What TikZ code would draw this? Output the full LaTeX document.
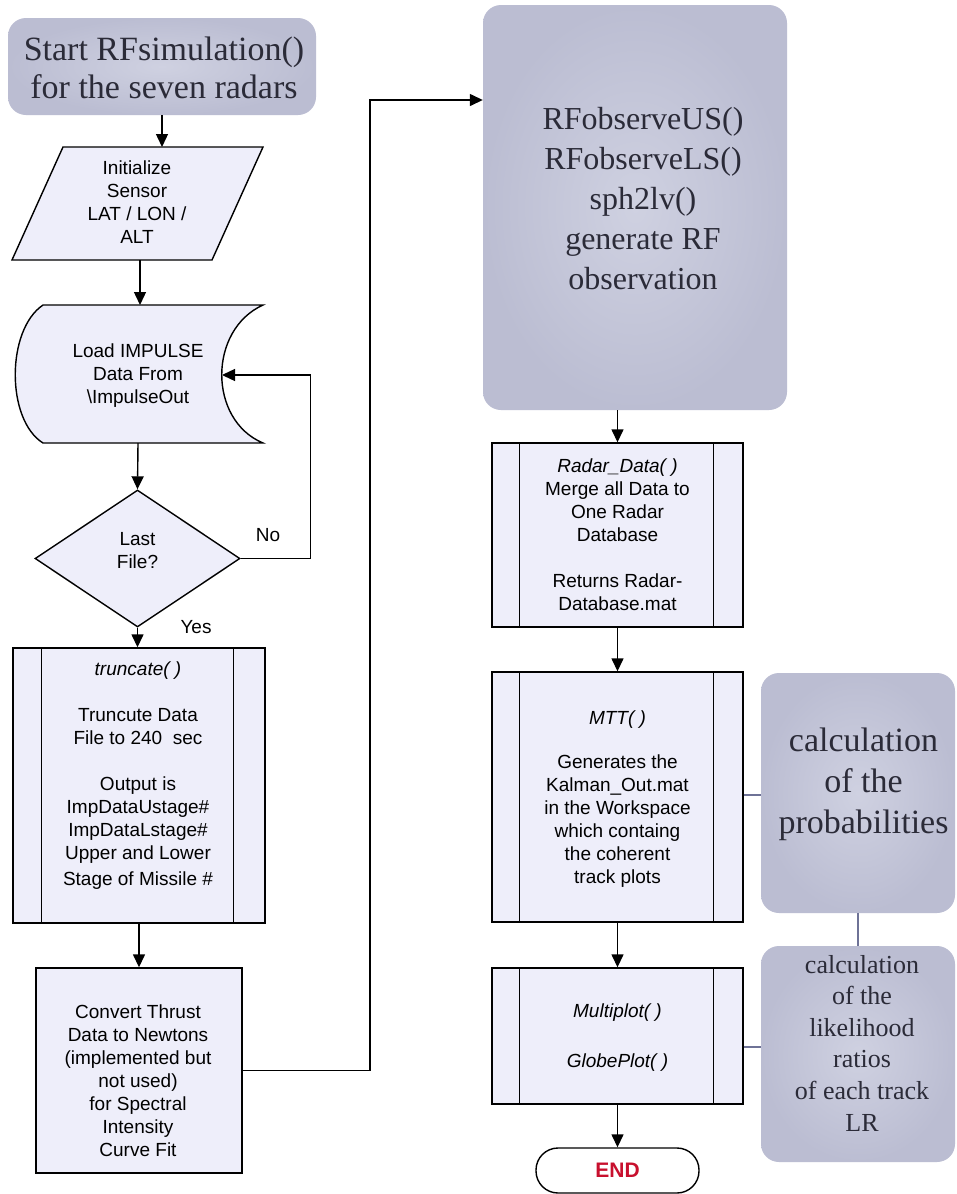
\documentclass[tikz,border=0pt]{standalone}
\usepackage{fontspec}
\setmainfont{Liberation Serif}
\setsansfont{Liberation Sans}
\usetikzlibrary{arrows.meta,shapes.geometric,calc}
\definecolor{boxfill}{HTML}{EEEEFA}
\definecolor{grayfill}{HTML}{BBBDD2}
\definecolor{grayin}{HTML}{CFD1E1}
\definecolor{grayline}{HTML}{6E7296}
\definecolor{txtdark}{HTML}{2B2B38}
\definecolor{endred}{HTML}{C8102E}
\begin{document}
\begin{tikzpicture}[x=1pt,y=-1pt,
  line/.style={draw=black, line width=1.4pt},
  arr/.style={line, -{Triangle[length=13pt,width=12pt]}},
  flowtxt/.style={font=\sffamily\fontsize{19}{23}\selectfont, align=center, text=black, inner sep=0pt},
  procbox/.style={draw=black, line width=1.4pt, fill=boxfill, inner sep=0pt},
  graybox/.style={rounded corners=18pt, inner color=grayin, outer color=grayfill, inner sep=0pt},
  graytxt/.style={align=center, text=txtdark, inner sep=0pt},
  glink/.style={draw=grayline, line width=1.1pt},
  lbl/.style={font=\sffamily\fontsize{19}{23}\selectfont, text=black, inner sep=0pt}
]
\useasboundingbox (0,0) rectangle (956,1194);
\fill[white] (0,0) rectangle (956,1194);

% ---------- left column ----------
\node[graybox, minimum width=308pt, minimum height=97pt] (start) at (162,66.5) {};
\node[graytxt, font=\fontsize{34}{38}\selectfont] (starttxt) at (164,68) {Start RFsimulation()\\for the seven radars};

% parallelogram
\draw[procbox] (63,147) -- (263,147) -- (212,260) -- (12,260) -- cycle;
\coordinate (initTop) at (162,147);
\coordinate (initBot) at (140,260);
\node[flowtxt] (init) at (137,202) {Initialize\\Sensor\\LAT / LON /\\ALT};

% stored data
\draw[procbox] (43,305) -- (263,305) .. controls (208,330) and (208,420) .. (263,443)
  -- (43,443) .. controls (6,420) and (6,330) .. (43,305) -- cycle;
\coordinate (loadTop) at (140,305);
\coordinate (loadBot) at (138,443);
\coordinate (loadIn) at (222,375);
\node[flowtxt] (load) at (138,376) {Load IMPULSE\\Data From\\\textbackslash ImpulseOut};

% decision
\node[diamond, procbox, minimum width=205pt, minimum height=137pt] (dec) at (137.5,558.5) {};
\node[flowtxt] (dectxt) at (137.5,551) {Last\\File?};
\node[lbl] (no) at (268,535) {No};
\node[lbl] (yes) at (196,627) {Yes};

% truncate
\node[procbox, minimum width=252pt, minimum height=275pt] (trunc) at (139,785.5) {};
\draw[line] ([xshift=29pt]trunc.north west) -- ([xshift=29pt]trunc.south west);
\draw[line] ([xshift=-32pt]trunc.north east) -- ([xshift=-32pt]trunc.south east);
\node[flowtxt] (trunctxt) at (138,776) {{\itshape truncate( )}\\[23pt]Truncute Data\\File to 240~ sec\\[23pt]Output is\\ImpDataUstage\#\\ImpDataLstage\#\\Upper and Lower\\[3pt]Stage of Missile \#};

% convert
\node[procbox, minimum width=206pt, minimum height=205pt] (conv) at (139,1070.5) {};
\node[flowtxt] (convtxt) at (138,1081) {Convert Thrust\\Data to Newtons\\(implemented but\\not used)\\for Spectral\\Intensity\\Curve Fit};

% ---------- right column ----------
\node[graybox, minimum width=304pt, minimum height=405pt] (rf) at (635,207.5) {};
\node[graytxt, font=\fontsize{32}{40}\selectfont] (rftxt) at (643,199) {RFobserveUS()\\RFobserveLS()\\sph2lv()\\generate RF\\observation};

\node[procbox, minimum width=251pt, minimum height=184pt] (radar) at (617.5,535) {};
\draw[line] ([xshift=28pt]radar.north west) -- ([xshift=28pt]radar.south west);
\draw[line] ([xshift=-30pt]radar.north east) -- ([xshift=-30pt]radar.south east);
\node[flowtxt] (radartxt) at (617.5,535) {{\itshape Radar\_Data( )}\\Merge all Data to\\One Radar\\Database\\[23pt]Returns Radar-\\Database.mat};

\node[procbox, minimum width=251pt, minimum height=250pt] (mtt) at (617.5,797) {};
\draw[line] ([xshift=28pt]mtt.north west) -- ([xshift=28pt]mtt.south west);
\draw[line] ([xshift=-30pt]mtt.north east) -- ([xshift=-30pt]mtt.south east);
\node[flowtxt] (mtttxt) at (617.5,799) {{\itshape MTT( )}\\[21pt]Generates the\\Kalman\_Out.mat\\in the Workspace\\which containg\\the coherent\\track plots};

\node[procbox, minimum width=251pt, minimum height=136pt] (mplot) at (617.5,1036) {};
\draw[line] ([xshift=28pt]mplot.north west) -- ([xshift=28pt]mplot.south west);
\draw[line] ([xshift=-30pt]mplot.north east) -- ([xshift=-30pt]mplot.south east);
\node[flowtxt] (mplottxt) at (617.5,1038) {{\itshape Multiplot( )}\\[27pt]{\itshape GlobePlot( )}};

\node[draw=black, line width=1.4pt, fill=white, rounded corners=22pt, minimum width=163pt, minimum height=45pt, inner sep=0pt,
  font=\sffamily\bfseries\fontsize{21}{24}\selectfont, text=endred] (end) at (617.5,1170.5) {END};

\node[graybox, minimum width=194pt, minimum height=240pt] (prob) at (858,793) {};
\node[graytxt, font=\fontsize{34}{41}\selectfont] (probtxt) at (863.5,784) {calculation\\of the\\probabilities};

\node[graybox, minimum width=194pt, minimum height=216pt] (lr) at (858,1054) {};
\node[graytxt, font=\fontsize{26}{31.6}\selectfont] (lrtxt) at (862,1043) {calculation\\of the\\likelihood\\ratios\\of each track\\LR};

% ---------- connectors ----------
\draw[arr] (start.south) -- (initTop);
\draw[arr] (initBot) -- (loadTop);
\draw[arr] (loadBot) -- (dec.north);
\draw[arr] (dec.east) -- ++(70,0) |- (loadIn);
\draw[arr] (dec.south) -- (dec.south |- trunc.north);
\draw[arr] (trunc.south) -- (trunc.south |- conv.north);
\coordinate (bend) at (370,100);
\draw[arr] (conv.east) -| (bend) -- (rf.west |- bend);
\draw[arr] (radar.north |- rf.south) -- (radar.north);
\draw[arr] (radar.south) -- (mtt.north);
\draw[arr] (mtt.south) -- (mplot.north);
\draw[arr] (mplot.south) -- (end.north);
\path ([yshift=2pt]mtt.east) coordinate (m0);
\draw[glink] (m0) -- (m0 -| prob.west);
\draw[glink] (prob.south) -- (lr.north);
\path ([yshift=-11pt]mplot.east) coordinate (m1);
\draw[glink] (m1) -- (m1 -| lr.west);
\end{tikzpicture}
\end{document}
